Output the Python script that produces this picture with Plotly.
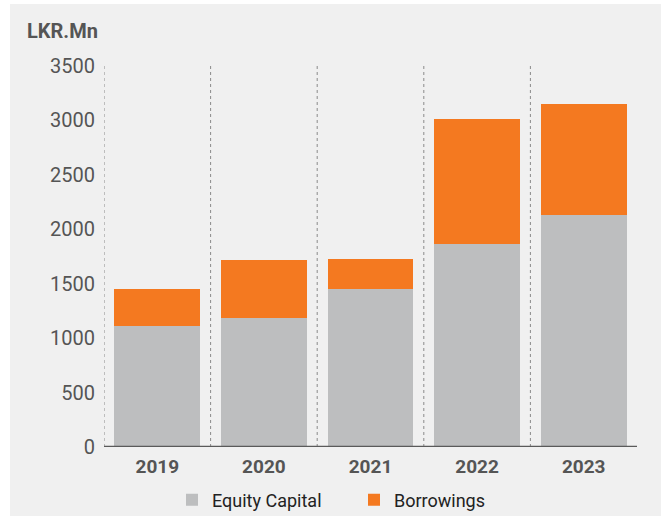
import plotly.graph_objects as go

# Capital structure, LKR millions
years = ["2019", "2020", "2021", "2022", "2023"]
equity_capital = [1110, 1185, 1450, 1864, 2130]
borrowings = [340, 532, 276, 1148, 1020]

y_ticks = [0, 500, 1000, 1500, 2000, 2500, 3000, 3500]

GREY = "#bdbebf"
ORANGE = "#f47920"
PANEL = "#f0f0f0"
TEXT = "#555555"

fig = go.Figure()
fig.add_trace(go.Bar(x=years, y=equity_capital, name="Equity Capital",
                     marker=dict(color=GREY, line=dict(width=0))))
fig.add_trace(go.Bar(x=years, y=borrowings, name="Borrowings",
                     marker=dict(color=ORANGE, line=dict(width=0))))

# plot area in pixels: x 104..637, y 66..447
L, R, T, B = 104, 30, 66, 69
W, H = 667, 516
pw, ph = W - L - R, H - T - B

def px_x(p):
    return (p - L) / pw

def px_y(p):
    return (H - B - p) / ph

shapes = [
    # light grey panel behind everything
    dict(type="rect", xref="paper", yref="paper", layer="below",
         x0=px_x(10), x1=px_x(661), y0=px_y(520), y1=px_y(4),
         fillcolor=PANEL, line=dict(width=0)),
]
# dotted separators at the left edge of each category
for i in range(len(years)):
    shapes.append(dict(type="line", xref="x", yref="y", layer="below",
                       x0=i - 0.5, x1=i - 0.5, y0=0, y1=y_ticks[-1],
                       line=dict(color="#8a8a8a", width=1, dash="dot")))
# baseline
shapes.append(dict(type="line", xref="x", yref="y", layer="above",
                   x0=-0.5, x1=len(years) - 0.5, y0=0, y1=0,
                   line=dict(color="#5a5a5a", width=2.5)))

fig.update_layout(
    width=W, height=H,
    margin=dict(l=L, r=R, t=T, b=B, autoexpand=False),
    barmode="stack",
    bargap=0.194,
    paper_bgcolor="white",
    plot_bgcolor="rgba(0,0,0,0)",
    font=dict(family="Roboto", color=TEXT),
    shapes=shapes,
    showlegend=True,
    legend=dict(orientation="h", x=px_x(172), y=px_y(500),
                xanchor="left", yanchor="middle",
                entrywidth=137, entrywidthmode="pixels",
                font=dict(size=18, color="#222222"),
                bgcolor="rgba(0,0,0,0)", traceorder="normal",
                itemclick=False),
    annotations=[dict(text="<b>LKR.Mn</b>", xref="paper", yref="paper",
                      x=px_x(25), y=px_y(31), xanchor="left", yanchor="middle",
                      showarrow=False, font=dict(size=20, color=TEXT))],
)

fig.update_xaxes(range=[-0.5, len(years) - 0.5], showgrid=False, showline=False,
                 zeroline=False, ticks="", ticklabelstandoff=6,
                 tickfont=dict(size=19, color=TEXT),
                 tickprefix="<b>", ticksuffix="</b>")
fig.update_yaxes(range=[0, 3500], tickvals=y_ticks, showgrid=False, showline=False,
                 zeroline=False, ticks="", ticklabelstandoff=8,
                 tickfont=dict(size=20, color=TEXT))

fig.write_html("out.html")
